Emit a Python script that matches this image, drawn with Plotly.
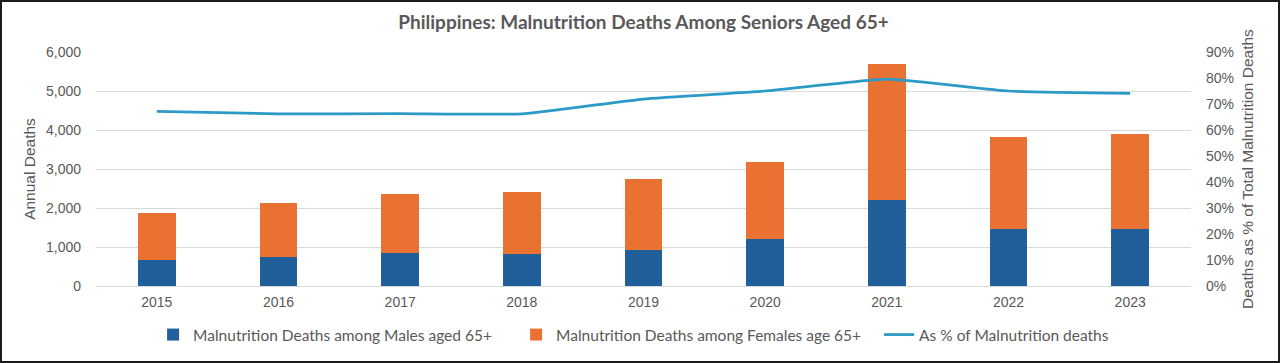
import plotly.graph_objects as go

years = ["2015", "2016", "2017", "2018", "2019", "2020", "2021", "2022", "2023"]
males = [667, 744, 846, 820, 923, 1205, 2205, 1462, 1462]
females = [1205, 1384, 1513, 1590, 1821, 1974, 3487, 2358, 2435]
pct_share = [0.672, 0.662, 0.663, 0.662, 0.719, 0.750, 0.796, 0.750, 0.741]

left_ticks = [0, 1000, 2000, 3000, 4000, 5000, 6000]
right_ticks = [0, 0.1, 0.2, 0.3, 0.4, 0.5, 0.6, 0.7, 0.8, 0.9]

W, H = 1280, 363
L, R, T, B = 96, 89, 52, 77
pw, ph = W - L - R, H - T - B

tick_font = dict(family="Liberation Sans, Arial", size=14, color="#595959")
axis_title_font = dict(family="Liberation Sans, Arial", size=15.5, color="#595959")
text_font = dict(family="Lato, Open Sans", size=15.5, color="#595959")

fig = go.Figure()
fig.add_trace(go.Bar(x=years, y=males, name="Malnutrition Deaths among Males aged 65+",
                     marker=dict(color="#215F9A", line=dict(width=0))))
fig.add_trace(go.Bar(x=years, y=females, name="Malnutrition Deaths among Females age 65+",
                     marker=dict(color="#E97132", line=dict(width=0))))
fig.add_trace(go.Scatter(x=years, y=pct_share, name="As % of Malnutrition deaths", yaxis="y2",
                         mode="lines", line=dict(color="#2B9AC6", width=2.75, shape="spline", smoothing=0.4)))

fig.update_layout(
    width=W, height=H,
    margin=dict(l=L, r=R, t=T, b=B, autoexpand=False),
    paper_bgcolor="white", plot_bgcolor="white",
    barmode="stack", bargap=0.69,
    title=dict(text="<b>Philippines: Malnutrition Deaths Among Seniors Aged 65+</b>",
               x=0.5, xref="paper", xanchor="center", y=1 - 22 / H, yanchor="middle",
               font=dict(family="Lato, Open Sans", size=19, color="#595959")),
    xaxis=dict(type="category", showgrid=False, showline=False, ticks="",
               tickfont=tick_font, ticklabelstandoff=6),
    yaxis=dict(range=[0, 6000], tickvals=left_ticks, tickformat=",d",
               showgrid=True, gridcolor="#D9D9D9", gridwidth=1, zeroline=True,
               zerolinecolor="#D9D9D9", zerolinewidth=1, showline=False, ticks="",
               tickfont=tick_font, ticklabelstandoff=14,
               title=dict(text="Annual Deaths", font=axis_title_font, standoff=6)),
    yaxis2=dict(range=[0, 0.9], tickvals=right_ticks, tickformat=".0%", overlaying="y", side="right",
                showgrid=False, zeroline=False, showline=False, ticks="",
                tickfont=tick_font, ticklabelstandoff=14,
                title=dict(text="Deaths as % of Total Malnutrition Deaths",
                           font=axis_title_font, standoff=9)),
    legend=dict(orientation="h", x=0.545, xref="container", xanchor="center",
                y=(H - 335) / H, yref="container", yanchor="middle",
                font=text_font, itemwidth=30, entrywidth=318, entrywidthmode="pixels",
                tracegroupgap=0, traceorder="normal"),
    showlegend=True,
    shapes=[dict(type="rect", xref="paper", yref="paper",
                 x0=(-L + 1) / pw, x1=(W - L - 1) / pw,
                 y0=(-B + 1) / ph, y1=(H - B - 1) / ph,
                 line=dict(color="#1A1A1A", width=2), fillcolor="rgba(0,0,0,0)", layer="above")],
)

fig.write_html("out.html", config={"displayModeBar": False},
               post_script="document.body.style.margin='0';document.body.style.overflow='hidden';")
